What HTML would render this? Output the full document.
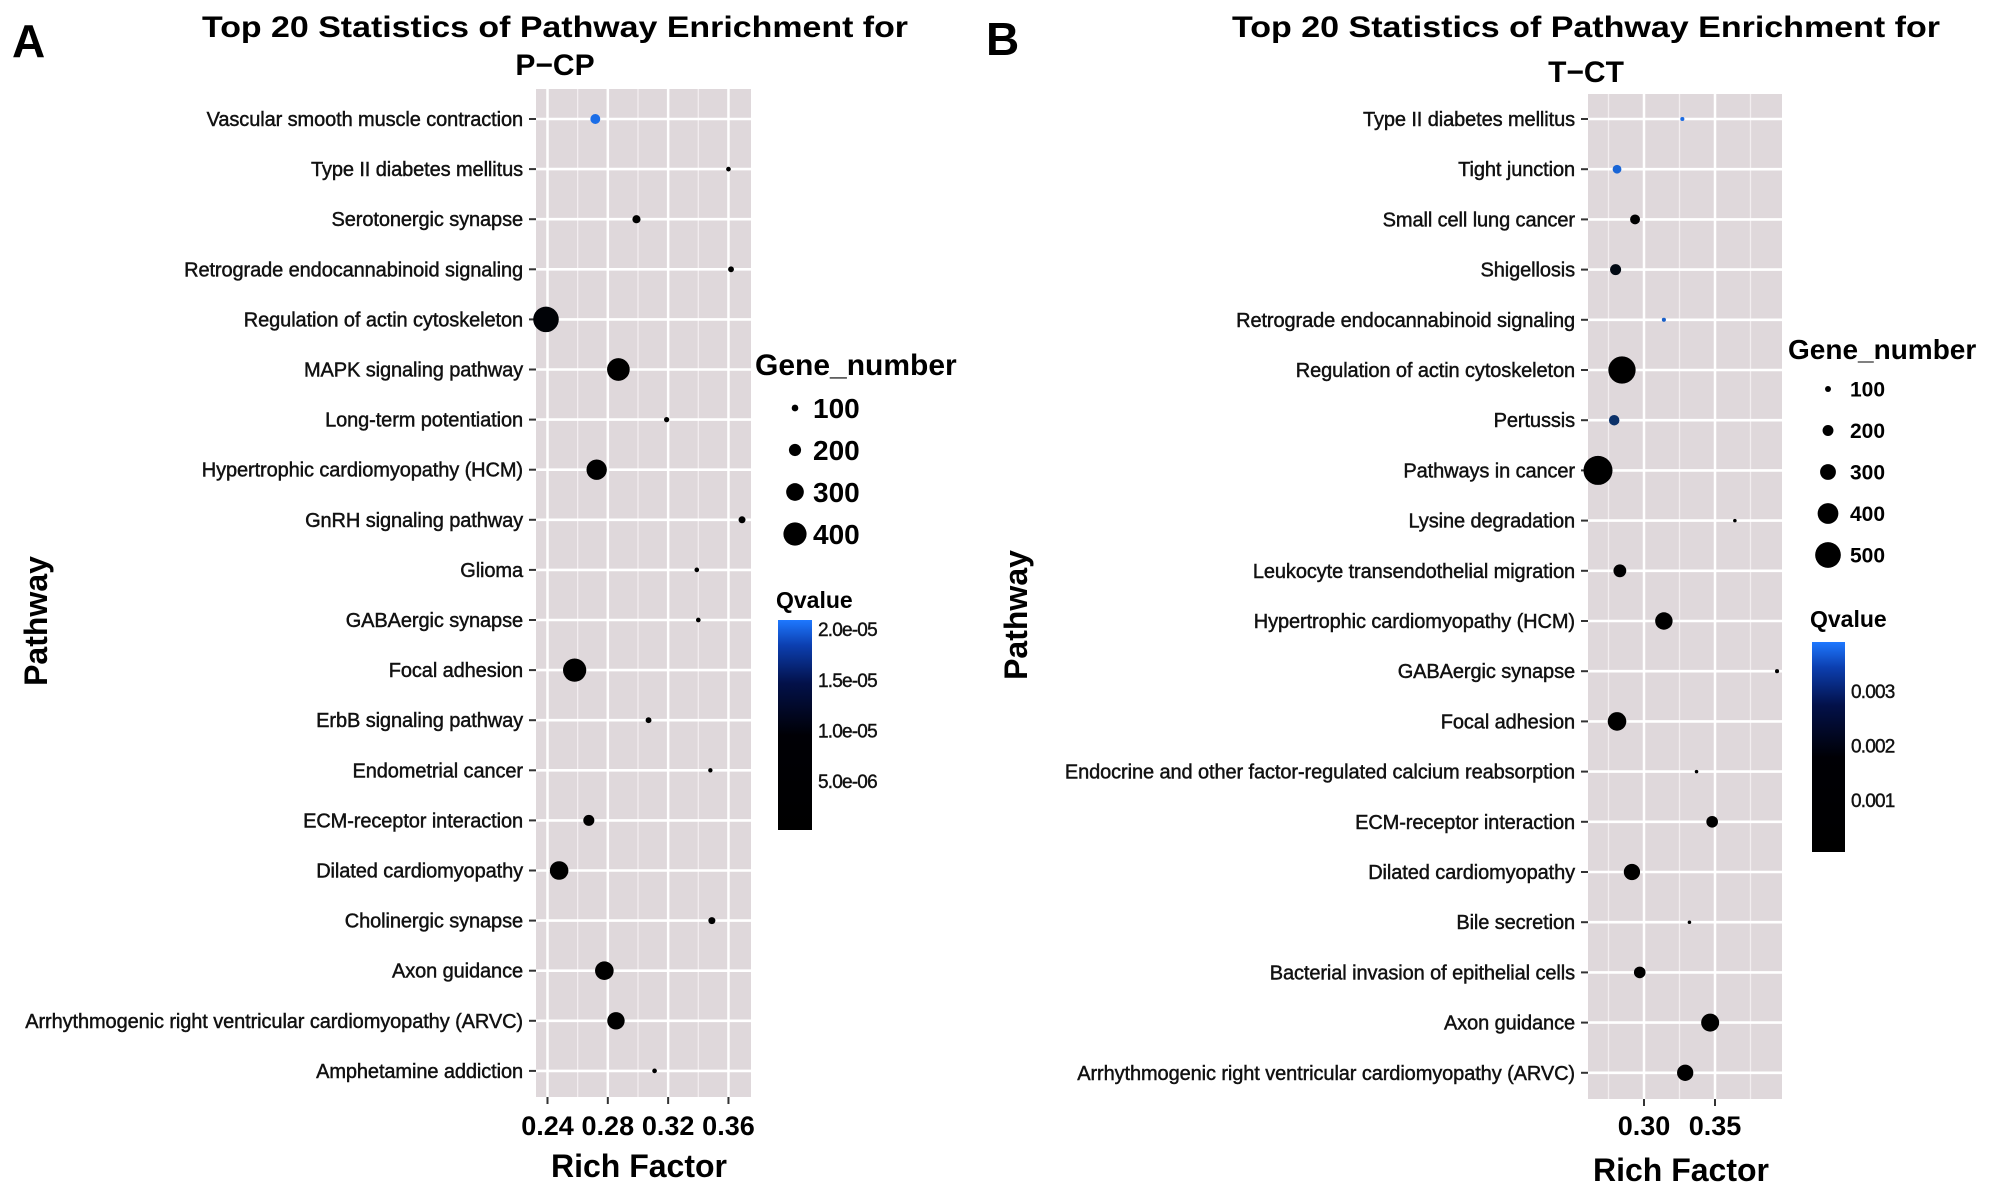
<!DOCTYPE html>
<html><head><meta charset="utf-8"><style>
html,body{margin:0;padding:0;background:#fff;}
svg{display:block;font-family:"Liberation Sans",sans-serif;}
</style></head><body>
<svg id="fig" width="2008" height="1193" viewBox="0 0 2008 1193" xmlns="http://www.w3.org/2000/svg">
<defs>
<linearGradient id="qgrad" x1="0" y1="1" x2="0" y2="0">
<stop offset="0" stop-color="#000000"/><stop offset="0.45" stop-color="#000005"/><stop offset="0.7" stop-color="#03114a"/><stop offset="0.88" stop-color="#0c3fb0"/><stop offset="1" stop-color="#1e78ff"/>
</linearGradient>
</defs>
<text x="12" y="57" font-size="46" font-weight="bold">A</text>
<text x="986" y="55" font-size="46" font-weight="bold">B</text>
<text x="555" y="37" font-size="30" font-weight="bold" text-anchor="middle" textLength="706" lengthAdjust="spacingAndGlyphs">Top 20 Statistics  of Pathway Enrichment for</text>
<text x="555" y="75" font-size="30" font-weight="bold" text-anchor="middle">P−CP</text>
<text x="1586" y="37" font-size="30" font-weight="bold" text-anchor="middle" textLength="708" lengthAdjust="spacingAndGlyphs">Top 20 Statistics  of Pathway Enrichment for</text>
<text x="1586" y="82" font-size="30" font-weight="bold" text-anchor="middle">T−CT</text>
<g id="chartA"></g>
<g id="chartB"></g>
</svg>
<script>
// Panel A data
const catsA = ["Vascular smooth muscle contraction","Type II diabetes mellitus","Serotonergic synapse","Retrograde endocannabinoid signaling","Regulation of actin cytoskeleton","MAPK signaling pathway","Long-term potentiation","Hypertrophic cardiomyopathy (HCM)","GnRH signaling pathway","Glioma","GABAergic synapse","Focal adhesion","ErbB signaling pathway","Endometrial cancer","ECM-receptor interaction","Dilated cardiomyopathy","Cholinergic synapse","Axon guidance","Arrhythmogenic right ventricular cardiomyopathy (ARVC)","Amphetamine addiction"];
const richA = [0.2717,0.360,0.299,0.3617,0.239,0.287,0.319,0.2726,0.369,0.339,0.340,0.258,0.307,0.348,0.2674,0.2477,0.349,0.2777,0.2854,0.311];
const genesA = [150,60,120,80,420,370,70,330,100,60,60,380,80,55,170,300,100,300,280,60];
const qA = [2.0e-5,1e-6,1e-6,1e-6,4e-6,1e-6,1e-6,1e-6,1e-6,1e-6,1e-6,1e-6,1e-6,1e-6,1e-6,1e-6,1e-6,1e-6,1e-6,1e-6];
const xTicksA = [0.24,0.28,0.32,0.36];
const xTickLabelsA = ["0.24","0.28","0.32","0.36"];
const sizeLegendA = [100,200,300,400];
const qTicksA = [2.0e-5,1.5e-5,1.0e-5,5.0e-6];
const qTickLabelsA = ["2.0e-05","1.5e-05","1.0e-05","5.0e-06"];
// Panel B data
const catsB = ["Type II diabetes mellitus","Tight junction","Small cell lung cancer","Shigellosis","Retrograde endocannabinoid signaling","Regulation of actin cytoskeleton","Pertussis","Pathways in cancer","Lysine degradation","Leukocyte transendothelial migration","Hypertrophic cardiomyopathy (HCM)","GABAergic synapse","Focal adhesion","Endocrine and other factor-regulated calcium reabsorption","ECM-receptor interaction","Dilated cardiomyopathy","Bile secretion","Bacterial invasion of epithelial cells","Axon guidance","Arrhythmogenic right ventricular cardiomyopathy (ARVC)"];
const richB = [0.327,0.281,0.2937,0.280,0.314,0.2845,0.279,0.2676,0.364,0.283,0.314,0.3937,0.281,0.337,0.348,0.2915,0.332,0.297,0.3466,0.329];
const genesB = [50,130,150,170,50,450,160,480,40,200,280,50,300,40,180,260,40,180,290,260];
const qB = [0.0037,0.0036,0.0003,0.0012,0.0035,0.0002,0.0026,0.0002,0.0002,0.0003,0.0002,0.0002,0.0002,0.0002,0.0002,0.0002,0.0002,0.0002,0.0002,0.0002];
const xTicksB = [0.30,0.35];
const xTickLabelsB = ["0.30","0.35"];
const sizeLegendB = [100,200,300,400,500];
const qTicksB = [0.003,0.002,0.001];
const qTickLabelsB = ["0.003","0.002","0.001"];

const NS="http://www.w3.org/2000/svg";
function mk(parent,tag,attrs,text){const e=document.createElementNS(NS,tag);for(const k in attrs)e.setAttribute(k,attrs[k]);if(text!==undefined)e.textContent=text;parent.appendChild(e);return e;}
function rad(n){return 0.6+0.029*n;}
function lerp(a,b,t){return Math.round(a+(b-a)*t);}
function qColor(q,qmax){let t=Math.max(0,Math.min(1,q/qmax));t=Math.pow(t,2.2);return "rgb("+lerp(0,30,t)+","+lerp(0,120,t)+","+lerp(0,255,t)+")";}

function drawPanel(g,cfg,cats,rich,genes,qv,ticks,tickLabels,sizeLeg,qTicks,qTickLabels,key){
  const L=cfg.left,R=cfg.right,T=cfg.top,B=cfg.bottom;
  const xs=v=>cfg.x0px+(v-cfg.x0)*cfg.slope;
  const ys=i=>cfg.row0+i*cfg.rowStep;
  const bg=mk(g,"rect",{x:L,y:T,width:R-L,height:B-T,fill:"#dfd8db"});
  
  
  const step=ticks[1]-ticks[0];
  for(let k=-3;k<ticks.length+3;k++){
    const v=ticks[0]+step*(k+0.5); const px=xs(v);
    if(px>L&&px<R){const l=mk(g,"line",{x1:px,x2:px,y1:T,y2:B,stroke:"#f3eef0","stroke-width":1.3});
      
      }
    const v2=ticks[0]+step*k; const px2=xs(v2);
    if((k<0||k>=ticks.length)&&px2>L&&px2<R){const l=mk(g,"line",{x1:px2,x2:px2,y1:T,y2:B,stroke:"#fff","stroke-width":2.5});
      
      }
  }
  ticks.forEach((v,i)=>{const px=xs(v);
    const l=mk(g,"line",{x1:px,x2:px,y1:T,y2:B,stroke:"#fff","stroke-width":2.5});
    
    
    const tk=mk(g,"line",{x1:px,x2:px,y1:B,y2:B+7,stroke:"#333","stroke-width":2});
    
    
    const t=mk(g,"text",{x:px,y:cfg.tickLabelY,"font-size":27,"font-weight":"bold","text-anchor":"middle"},tickLabels[i]);
    
    
  });
  cats.forEach((c,i)=>{const y=ys(i);
    const l=mk(g,"line",{x1:L,x2:R,y1:y,y2:y,stroke:"#fff","stroke-width":2.6});
    
    
    const tk=mk(g,"line",{x1:L-7,x2:L,y1:y,y2:y,stroke:"#333","stroke-width":2});
    
    
    const t=mk(g,"text",{x:L-13,y:y+7,"font-size":20,"text-anchor":"end",fill:"#111",stroke:"#111","stroke-width":0.45,"letter-spacing":"-0.1"},c);
    
    
  });
  cats.forEach((c,i)=>{
    const p=mk(g,"circle",{cx:xs(rich[i]),cy:ys(i),r:rad(genes[i]),fill:qColor(qv[i],cfg.qmax)});
    
    
  });
  const xt=mk(g,"text",{x:cfg.xTitleX,y:cfg.xTitleY,"font-size":32,"font-weight":"bold","text-anchor":"middle",textLength:176,lengthAdjust:"spacingAndGlyphs"},"Rich Factor");
  
  
  const yt=mk(g,"text",{x:0,y:0,"font-size":32,"font-weight":"bold","text-anchor":"middle",transform:"translate("+cfg.yTitleX+","+cfg.yTitleY+") rotate(-90)"},"Pathway");
  
  
  const st=mk(g,"text",{x:cfg.legX,y:cfg.legTitleY,"font-size":cfg.legTitleSize,"font-weight":"bold"},"Gene_number");
  
  
  sizeLeg.forEach((n,i)=>{const y=cfg.legY0+i*cfg.legStep;
    const d=mk(g,"circle",{cx:cfg.legDotX,cy:y,r:rad(n)*cfg.legScale,fill:"#000"});
    
    
    const t=mk(g,"text",{x:cfg.legTextX,y:y+cfg.legFont*0.36,"font-size":cfg.legFont,"font-weight":"bold"},String(n));
    
    
  });
  const qt=mk(g,"text",{x:cfg.cbX-2,y:cfg.cbTitleY,"font-size":23,"font-weight":"bold"},"Qvalue");
  
  
  const cb=mk(g,"rect",{x:cfg.cbX,y:cfg.cbTop,width:cfg.cbW,height:cfg.cbBot-cfg.cbTop,fill:"url(#qgrad)"});
  
  
  const qy=q=>cfg.cbBot-(q-cfg.qmin)/(cfg.qmax-cfg.qmin)*(cfg.cbBot-cfg.cbTop);
  qTicks.forEach((q,i)=>{const y=qy(q);
    const t=mk(g,"text",{x:cfg.cbX+cfg.cbW+6,y:y+7,"font-size":19,"letter-spacing":"-0.8",fill:"#111",stroke:"#111","stroke-width":0.4},qTickLabels[i]);
    
    
  });
}
drawPanel(document.getElementById("chartA"),{left:536,right:751,top:89,bottom:1097,x0:0.24,x0px:547.5,slope:1508,row0:119,rowStep:50.1,qmax:2.09e-5,qmin:1.7e-7,tickLabelY:1135,xTitleX:639,xTitleY:1177,yTitleX:47,yTitleY:621,legX:755,legTitleY:375,legTitleSize:30,legY0:408,legStep:42,legDotX:795,legTextX:813,legFont:28,legScale:0.95,cbX:778,cbW:34,cbTop:620,cbBot:830,cbTitleY:608},catsA,richA,genesA,qA,xTicksA,xTickLabelsA,sizeLegendA,qTicksA,qTickLabelsA,"panel-a");
drawPanel(document.getElementById("chartB"),{left:1588,right:1782,top:94,bottom:1099,x0:0.30,x0px:1644,slope:1420,row0:119,rowStep:50.2,qmax:0.0039,qmin:0.00005,tickLabelY:1135,xTitleX:1681,xTitleY:1181,yTitleX:1027,yTitleY:615,legX:1788,legTitleY:359,legTitleSize:28,legY0:389,legStep:41.5,legDotX:1828,legTextX:1850,legFont:21,legScale:0.85,cbX:1812,cbW:33,cbTop:642,cbBot:852,cbTitleY:627},catsB,richB,genesB,qB,xTicksB,xTickLabelsB,sizeLegendB,qTicksB,qTickLabelsB,"panel-b");
</script>
</body></html>
